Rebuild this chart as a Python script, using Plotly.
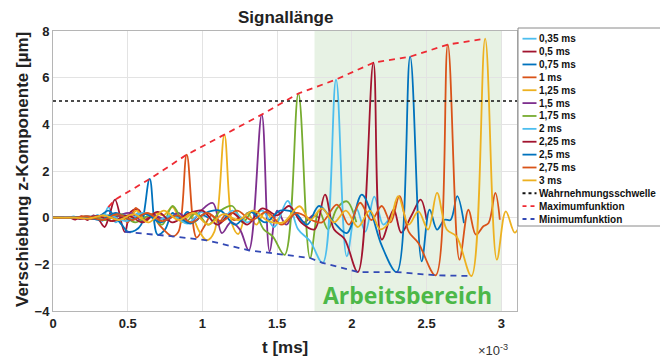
import plotly.graph_objects as go

# ---------------- data (time in ms, displacement in µm) ----------------
labels = ["0,35 ms", "0,5 ms", "0,75 ms", "1 ms", "1,25 ms", "1,5 ms", "1,75 ms",
          "2 ms", "2,25 ms", "2,5 ms", "2,75 ms", "3 ms"]
colors = ["#4DBEEE", "#A2142F", "#0072BD", "#D95319", "#EDB120", "#7E2F8E", "#77AC30",
          "#4DBEEE", "#A2142F", "#0072BD", "#D95319", "#EDB120"]

t_035 = [0, 0.10, 0.14, 0.18, 0.22, 0.26, 0.30, 0.33, 0.37, 0.42, 0.47, 0.52, 0.57, 0.62]
y_035 = [0, 0, 0.05, -0.06, 0.08, -0.05, 0.12, -0.15, 0.45, -0.2, 0.15, -0.1, 0.2, 0.0]

t_050 = [0, 0.11, 0.15, 0.19, 0.23, 0.27, 0.31, 0.345, 0.375, 0.415, 0.48, 0.52, 0.57, 0.62, 0.67, 0.72, 0.77]
y_050 = [0, 0, -0.08, 0.06, -0.1, 0.1, -0.12, -0.4, 0.05, 0.77, -0.61, 0.25, 0.35, -0.1, 0.15, -0.05, 0.05]

t_075 = [0, 0.12, 0.2, 0.26, 0.32, 0.37, 0.42, 0.46, 0.50, 0.55, 0.59, 0.647, 0.70, 0.75, 0.80, 0.85, 0.90, 0.95, 1.0, 1.04]
y_075 = [0, 0, 0.03, -0.05, 0.1, 0.3, 0.0, -0.3, -0.6, -0.55, -0.3, 1.66, -0.73, -0.5, 0.2, -0.1, 0.25, -0.15, 0.1, 0.0]

t_100 = [0, 0.13, 0.2, 0.27, 0.33, 0.39, 0.45, 0.50, 0.555, 0.61, 0.66, 0.71, 0.80, 0.84, 0.895, 0.96, 1.01, 1.06, 1.11, 1.16, 1.21, 1.26]
y_100 = [0, 0, 0.04, -0.06, 0.1, -0.15, 0.1, -0.2, 0.42, -0.1, 0.15, -0.3, -0.80, -0.6, 2.70, -0.85, -0.4, 0.1, -0.2, 0.15, -0.1, 0.05]

t_125 = [0, 0.14, 0.22, 0.3, 0.37, 0.44, 0.5, 0.56, 0.62, 0.68, 0.74, 0.80, 0.86, 0.92, 0.98, 1.03, 1.08, 1.147, 1.2, 1.24, 1.3, 1.36, 1.42, 1.48, 1.53]
y_125 = [0, 0, 0.05, -0.05, 0.1, 0.15, -0.1, 0.3, -0.15, 0.2, 0.1, 0.45, -0.2, 0.1, -0.6, -0.97, -0.6, 3.56, -0.3, -0.7, 0.2, -0.3, 0.25, -0.15, 0.1]

t_150 = [0, 0.14, 0.24, 0.34, 0.44, 0.52, 0.6, 0.68, 0.76, 0.84, 0.92, 0.99, 1.07, 1.13, 1.19, 1.25, 1.31, 1.397, 1.45, 1.5, 1.56, 1.62, 1.68, 1.74, 1.78]
y_150 = [0, 0, 0.05, -0.1, 0.1, 0.2, -0.15, 0.1, -0.1, 0.2, -0.2, 0.3, 0.63, -0.66, -0.2, -0.5, -1.40, 4.42, -1.45, 0.3, -0.3, 0.2, -0.2, 0.1, 0]

t_175 = [0, 0.15, 0.25, 0.35, 0.45, 0.55, 0.65, 0.73, 0.8, 0.88, 0.96, 1.04, 1.12, 1.2, 1.27, 1.34, 1.41, 1.47, 1.55, 1.642, 1.72, 1.78, 1.84, 1.9, 1.966, 2.03]
y_175 = [0, 0, 0.04, -0.1, 0.15, -0.2, 0.1, -0.3, 0.5, -0.2, 0.2, -0.3, 0.3, 0.5, -0.2, 0.3, -0.5, -0.8, -1.59, 5.32, -1.73, 0.3, -0.5, 0.4, 0.7, -0.2]

t_200 = [0, 0.15, 0.27, 0.38, 0.49, 0.6, 0.7, 0.8, 0.9, 1.0, 1.1, 1.2, 1.3, 1.4, 1.48, 1.57, 1.64, 1.72, 1.805, 1.894, 1.966, 2.03, 2.09, 2.15, 2.21, 2.27]
y_200 = [0, 0, 0.05, 0.1, -0.15, 0.2, -0.1, 0.1, -0.25, 0.25, -0.3, 0.3, -0.2, 0.3, -0.4, 0.72, -0.5, -1.0, -1.94, 5.92, -1.66, 0.4, -0.6, 0.9, -0.3, 0.2]

t_225 = [0, 0.12, 0.2, 0.3, 0.4, 0.5, 0.6, 0.7, 0.8, 0.9, 1.0, 1.1, 1.2, 1.3, 1.4, 1.5, 1.58, 1.66, 1.75, 1.82, 1.88, 1.95, 2.04, 2.144, 2.2, 2.28, 2.33, 2.4, 2.46, 2.5]
y_225 = [0, 0, -0.05, 0.08, -0.15, 0.1, -0.2, 0.25, -0.2, 0.15, 0.3, -0.3, 0.2, -0.3, 0.4, 0.1, 0.5, -0.2, -0.5, 0.99, -0.5, -0.9, -2.33, 6.64, -0.94, 0.34, -0.64, 0.1, 0.77, -0.09]

t_250 = [0, 0.12, 0.22, 0.32, 0.42, 0.52, 0.62, 0.72, 0.82, 0.92, 1.02, 1.12, 1.22, 1.32, 1.42, 1.52, 1.62, 1.70, 1.78, 1.88, 1.966, 2.066, 2.13, 2.2, 2.30, 2.39, 2.467, 2.52, 2.57, 2.62, 2.66, 2.705, 2.75]
y_250 = [0, 0, 0.03, -0.1, 0.2, -0.1, 0.15, -0.2, 0.1, -0.25, 0.2, 0.3, -0.3, 0.25, -0.2, 0.3, 0.2, -0.3, 0.5, -0.2, -0.66, 0.99, 0.2, -1.2, -2.33, 6.90, -1.87, 0.34, -0.51, -0.09, -0.1, 0.92, -0.23]

t_275 = [0, 0.13, 0.23, 0.33, 0.43, 0.53, 0.63, 0.73, 0.83, 0.93, 1.03, 1.13, 1.23, 1.33, 1.43, 1.53, 1.63, 1.73, 1.8, 1.9, 1.98, 2.055, 2.13, 2.2, 2.26, 2.318, 2.38, 2.445, 2.56, 2.642, 2.72, 2.78, 2.83, 2.88, 2.915, 2.96, 2.99]
y_275 = [0, 0, 0.05, -0.1, 0.15, -0.1, 0.2, -0.15, 0.1, -0.2, 0.2, -0.15, 0.3, -0.1, 0.25, -0.3, 0.2, -0.1, -0.2, 0.56, -0.3, 0.64, -0.1, 0.5, -0.2, 0.92, -0.6, -1.09, -2.47, 7.42, -1.80, 0.34, -0.73, -0.37, -0.23, 1.06, -0.09]

t_300 = [0, 0.14, 0.24, 0.34, 0.44, 0.54, 0.64, 0.74, 0.84, 0.94, 1.04, 1.14, 1.24, 1.34, 1.44, 1.54, 1.65, 1.72, 1.8, 1.88, 1.96, 2.04, 2.12, 2.19, 2.25, 2.31, 2.38, 2.445, 2.51, 2.57, 2.635, 2.7, 2.80, 2.892, 2.97, 3.03, 3.09, 3.13]
y_300 = [0, 0, -0.04, 0.1, -0.1, 0.15, -0.2, 0.3, -0.1, 0.2, -0.3, 0.15, -0.1, 0.3, -0.15, -0.2, 0.49, -0.1, 0.4, -0.2, 0.3, -0.4, 0.3, -0.5, -0.2, 0.92, -0.3, 0.27, -0.51, 1.06, -0.51, -0.8, -2.50, 7.67, -1.80, 0.27, -0.64, -0.2]

t_series = [t_035, t_050, t_075, t_100, t_125, t_150, t_175, t_200, t_225, t_250, t_275, t_300]
y_series = [y_035, y_050, y_075, y_100, y_125, y_150, y_175, y_200, y_225, y_250, y_275, y_300]

threshold = 5.0
t_thr = [0, 3.105]

t_max = [0.37, 0.415, 0.647, 0.895, 1.147, 1.397, 1.642, 1.894, 2.144, 2.39, 2.642, 2.892]
y_max = [0.45, 0.77, 1.66, 2.70, 3.56, 4.42, 5.32, 5.92, 6.64, 6.90, 7.42, 7.67]

t_min = [0.48, 0.70, 0.80, 1.03, 1.31, 1.55, 1.72, 1.805, 2.04, 2.30, 2.56, 2.80]
y_min = [-0.61, -0.73, -0.80, -0.97, -1.40, -1.59, -1.73, -1.94, -2.33, -2.33, -2.47, -2.50]

work_range = [1.75, 3.0]
x_ticks = [0, 0.5, 1, 1.5, 2, 2.5, 3]
x_ticktext = ["0", "0.5", "1", "1.5", "2", "2.5", "3"]
y_ticks = [-4, -2, 0, 2, 4, 6, 8]

# ---------------- layout geometry (reference pixels) ----------------
# the page body adds an 8px offset, so the figure is 8px smaller and shifted
OFF = 8
W, H = 668 - OFF, 361 - OFF
L, R, T, B = 53 - OFF, 517 - OFF, 31 - OFF, 311 - OFF


def px(x):
    return (x - OFF - L) / (R - L)


def py(y):
    return (B - (y - OFF)) / (B - T)


FONT = "Liberation Sans, Arial, sans-serif"
fig = go.Figure()

for lab, c, tt, yy in zip(labels, colors, t_series, y_series):
    fig.add_trace(go.Scatter(x=tt, y=yy, mode="lines", name=lab,
                             line=dict(color=c, width=1.8, shape="spline", smoothing=1.0),
                             showlegend=False))

fig.add_trace(go.Scatter(x=t_thr, y=[threshold, threshold], mode="lines",
                         name="Wahrnehmungsschwelle", showlegend=False,
                         line=dict(color="#111111", width=1.5, dash="dot")))
fig.add_trace(go.Scatter(x=t_max, y=y_max, mode="lines", name="Maximumfunktion",
                         showlegend=False, line=dict(color="#ee2a33", width=1.8, dash="6px,5px")))
fig.add_trace(go.Scatter(x=t_min, y=y_min, mode="lines", name="Minimumfunktion",
                         showlegend=False, line=dict(color="#3349b5", width=1.8, dash="6px,5px")))

# working range
fig.add_shape(type="rect", xref="x", yref="y", x0=work_range[0], x1=work_range[1],
              y0=-4, y1=8, fillcolor="#e7f2e4", line=dict(width=0), layer="below")

annotations = []
annotations.append(dict(xref="x", yref="y", x=2.37, y=-3.3, text="<b>Arbeitsbereich</b>",
                        showarrow=False, font=dict(family="Open Sans, sans-serif", size=23,
                                                   color="#4cb848")))
annotations.append(dict(xref="paper", yref="paper", x=px(285), y=py(18), text="<b>Signallänge</b>",
                        showarrow=False, xanchor="center", yanchor="middle",
                        font=dict(family=FONT, size=17, color="#222")))
annotations.append(dict(xref="paper", yref="paper", x=px(285), y=py(347), text="<b>t [ms]</b>",
                        showarrow=False, xanchor="center", yanchor="middle",
                        font=dict(family=FONT, size=17, color="#222")))
annotations.append(dict(xref="paper", yref="paper", x=px(22), y=py(170),
                        text="<b>Verschiebung z-Komponente [µm]</b>", textangle=-90,
                        showarrow=False, xanchor="center", yanchor="middle",
                        font=dict(family=FONT, size=17, color="#222")))
annotations.append(dict(xref="paper", yref="paper", x=px(493), y=py(350),
                        text="×10<sup>-3</sup>", showarrow=False, xanchor="center",
                        yanchor="middle", font=dict(family=FONT, size=13, color="#333")))

# ---------------- manual legend ----------------
leg_names = labels + ["Wahrnehmungsschwelle", "Maximumfunktion", "Minimumfunktion"]
leg_colors = colors + ["#111111", "#ee2a33", "#3349b5"]
leg_dash = ["solid"] * 12 + ["dot", "4px,4px", "4px,4px"]
shapes = []
shapes.append(dict(type="rect", xref="paper", yref="paper", x0=px(518), x1=px(667.5),
                   y0=py(226), y1=py(28), line=dict(color="#8a8a8a", width=1),
                   fillcolor="white", layer="above"))
y0 = 38.7
dy = 12.88
for i, (nm, c, d) in enumerate(zip(leg_names, leg_colors, leg_dash)):
    yy = y0 + i * dy
    shapes.append(dict(type="line", xref="paper", yref="paper", x0=px(522.5), x1=px(536.5),
                       y0=py(yy), y1=py(yy), line=dict(color=c, width=1.8, dash=d),
                       layer="above"))
    annotations.append(dict(xref="paper", yref="paper", x=px(537), y=py(yy), text="<b>%s</b>" % nm,
                            showarrow=False, xanchor="left", yanchor="middle",
                            font=dict(family=FONT, size=10, color="#111")))

fig.update_layout(
    width=W, height=H,
    margin=dict(l=L, r=W - R, t=T, b=H - B, autoexpand=False),
    paper_bgcolor="white", plot_bgcolor="white",
    showlegend=False,
    annotations=annotations,
)
for s in shapes:
    fig.add_shape(**s)

fig.update_xaxes(range=[0, 3.105], tickvals=x_ticks, ticktext=x_ticktext,
                 showgrid=True, gridcolor="#e3e3e3", gridwidth=1,
                 showline=True, linecolor="#b5b5b5", linewidth=1, mirror=True,
                 ticks="", zeroline=False,
                 tickfont=dict(family=FONT, size=13, color="#222", weight="bold"))
fig.update_yaxes(range=[-4, 8], tickvals=y_ticks,
                 showgrid=True, gridcolor="#e3e3e3", gridwidth=1,
                 showline=True, linecolor="#b5b5b5", linewidth=1, mirror=True,
                 ticks="", zeroline=False,
                 tickfont=dict(family=FONT, size=13, color="#222", weight="bold"))

fig.write_html("out.html")
